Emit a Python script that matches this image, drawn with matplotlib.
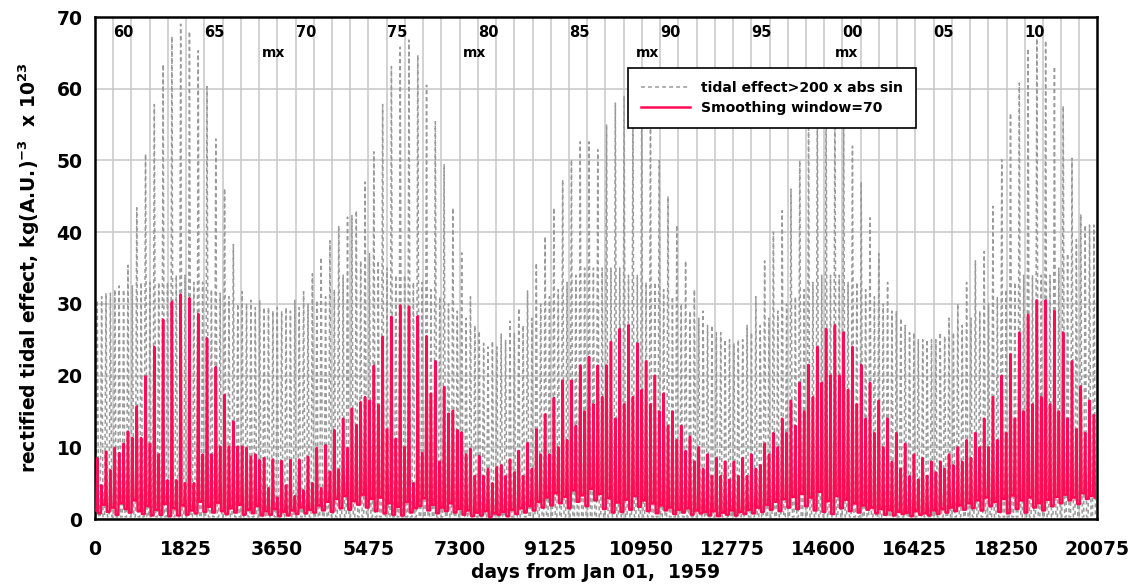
import numpy as np
import matplotlib
matplotlib.use("Agg")
import matplotlib.pyplot as plt
from matplotlib.lines import Line2D
from matplotlib.ticker import FixedLocator

plt.rcParams.update({
    "font.family": "DejaVu Sans",
    "font.weight": "bold",
    "axes.labelweight": "bold",
    "mathtext.fontset": "dejavusans",
    "mathtext.default": "bf",
})

# spikes come every Mercury orbit; first peak day and spacing in days
SPIKE_START = 45.0
SPIKE_PERIOD = 87.97

# peak value of each tidal spike (x 1e23)
GRAY_PEAK = [
    30.5, 31, 31.5, 31.5, 32, 32.5, 32, 35.4, 32.5, 43.4,
    33, 50.9, 33, 57.8, 33, 63.4, 33, 67.3, 34, 69.0,
    34, 68.0, 33, 65.3, 33, 60.3, 32, 53.0, 31.5, 46.1,
    31, 38.3, 30, 31.7, 30, 30.5, 29.5, 30.5, 29.5, 29.5,
    29, 29.5, 29, 29.5, 29, 30.5, 29.5, 31.7, 30, 34.2,
    30.5, 36.5, 31, 38.8, 32, 40.9, 34, 42.1, 42.3, 43,
    36, 47, 37, 51.2, 36, 57.8, 35, 63.1, 34, 65.8,
    34, 66.8, 33, 64.7, 33, 60.5, 32, 55.4, 31, 49.4,
    30, 43.4, 29, 37.1, 28, 31.0, 27, 26.2, 24.5, 24,
    24.8, 24, 25.8, 25, 27.6, 26, 29.4, 27, 31.8, 28,
    35.7, 30, 39.4, 31, 43.4, 32, 47.3, 33, 50.1, 34,
    52.6, 35, 52.6, 35, 51.5, 35, 55, 35, 58, 35,
    59, 34, 56, 34, 58, 33, 55, 33, 50, 32,
    45, 31, 41, 30, 36, 29, 32, 28, 29, 27,
    27, 26, 26, 25, 25, 24.5, 25, 25, 27, 26,
    31, 27, 36, 28, 40, 29, 43, 30, 46, 31,
    50, 32, 55, 33, 58, 34, 60, 34, 59, 34,
    56, 33, 52, 33, 47, 32, 42, 31, 37, 30,
    33, 29, 29, 28, 27, 26, 26, 25, 25, 25,
    25, 25, 26, 25.5, 28, 26, 30, 27, 33, 28,
    36, 29, 37.3, 30, 43.6, 31, 50.1, 32, 56.6, 33,
    60.8, 34, 65.6, 34, 67.0, 34, 66.7, 34, 63.1, 35,
    57.6, 37, 50.3, 39, 42.5, 41, 41, 41,
]
GRAY_FLOOR = 0.3

# smoothed curve: spike tops and the dips between them
RED_PEAK = [
    8.5, 4.7, 9.4, 6.8, 9.9, 9.2, 10.5, 12.2, 11.3, 15.7,
    11.3, 19.9, 10.5, 24.0, 9.0, 27.8, 5.4, 30.3, 5.4, 31.3,
    5.0, 30.8, 5.0, 28.6, 9.0, 25.2, 9.0, 21.2, 10.1, 17.3,
    10.1, 13.6, 10.1, 10.1, 9.9, 8.7, 9.0, 8.2, 8.5, 4.3,
    8.3, 3.0, 8.1, 4.7, 8.2, 3.2, 8.3, 4.0, 8.7, 5.0,
    9.9, 4.3, 10.3, 6.6, 12.4, 6.9, 14.0, 9.9, 15.4, 13.1,
    16.3, 17.0, 16.5, 21.4, 15.9, 25.4, 12.5, 28.2, 11.2, 29.8,
    10.0, 29.6, 5.0, 28.3, 9.2, 25.5, 17.5, 22.0, 8.0, 18.4,
    14.7, 15.1, 12.4, 12.1, 9.0, 9.8, 6.0, 8.8, 6.0, 7.0,
    5.0, 7.2, 7.5, 6.0, 8.3, 6.5, 9.5, 6.0, 10.6, 7.0,
    12.5, 9.0, 14.6, 9.0, 16.9, 10.0, 19.3, 11.0, 19.3, 13.0,
    21.4, 15.0, 22.6, 16.0, 21.4, 17.0, 21.4, 24.7, 14.0, 26.5,
    16.0, 27.0, 17.0, 24.5, 18.0, 22.0, 16.0, 20.0, 15.0, 17.5,
    13.0, 15.0, 11.0, 13.0, 9.5, 11.5, 8.0, 10.0, 7.0, 9.0,
    6.0, 8.5, 6.0, 8.0, 5.5, 8.0, 6.0, 8.5, 6.0, 9.0,
    7.0, 7.5, 10.5, 9.0, 12.0, 10.0, 14.0, 12.0, 16.5, 13.0,
    19.0, 15.0, 21.5, 17.0, 24.0, 19.0, 26.5, 20.0, 27.0, 20.0,
    26.0, 18.0, 24.0, 16.0, 21.5, 14.0, 19.0, 12.0, 16.5, 10.0,
    14.0, 8.0, 12.0, 7.0, 10.5, 6.0, 9.0, 5.5, 8.5, 6.0,
    8.0, 6.5, 8.0, 7.0, 9.0, 7.5, 10.0, 8.0, 11.0, 8.5,
    12.0, 10.0, 14.0, 10.0, 17.0, 11.0, 20.0, 12.0, 23.0, 14.0,
    26.0, 15.0, 28.5, 16.0, 30.5, 17.0, 30.5, 16.0, 29.0, 15.0,
    26.0, 14.0, 22.0, 12.5, 18.5, 12.0, 16.5, 14.5,
]
RED_TROUGH = [
    1.2, 0.8, 2.0, 1.0, 1.6, 0.6, 2.2, 1.4, 0.9, 2.6, 1.1, 0.7, 1.8, 0.5, 1.3, 0.6, 2.1, 0.4, 1.5, 0.5,
    1.9, 0.6, 1.2, 0.8, 2.4, 1.0, 1.7, 0.9, 2.3, 1.1, 0.7, 1.5, 0.9, 2.0, 0.6, 1.3, 0.8, 1.8, 0.5, 1.1,
    0.6, 1.4, 0.4, 1.0, 0.5, 1.2, 0.7, 1.6, 0.8, 1.3, 0.9, 1.9, 1.2, 2.4, 1.0, 2.8, 1.5, 3.2, 1.3, 2.5,
    2.0, 3.4, 1.6, 2.8, 1.1, 3.0, 0.8, 2.2, 0.6, 1.7, 0.5, 2.4, 0.9, 1.5, 1.8, 2.9, 1.2, 2.0, 0.8, 1.6,
    1.1, 2.2, 0.9, 1.4, 0.6, 1.2, 0.4, 0.9, 0.5, 1.1, 0.3, 0.8, 0.6, 1.0, 0.4, 1.3, 0.7, 1.5, 0.9, 1.8,
    1.2, 2.4, 1.6, 3.0, 1.9, 3.6, 2.2, 3.1, 1.5, 4.0, 2.4, 3.3, 1.8, 4.2, 2.6, 3.5, 1.4, 2.9, 0.9, 2.3,
    1.0, 2.7, 1.3, 3.2, 1.7, 2.6, 1.1, 2.2, 0.8, 1.9, 1.2, 1.6, 0.7, 1.3, 0.9, 1.5, 0.6, 1.2, 0.8, 1.0,
    0.5, 1.1, 0.4, 0.9, 0.6, 1.2, 0.5, 1.0, 0.7, 1.3, 0.8, 1.6, 1.0, 2.0, 1.3, 2.4, 1.1, 2.8, 1.6, 3.1,
    1.4, 3.5, 1.8, 3.0, 1.2, 3.8, 1.0, 2.5, 0.7, 3.2, 1.5, 2.7, 1.1, 2.2, 0.9, 1.9, 1.3, 1.6, 0.8, 1.4,
    0.6, 1.2, 0.5, 1.0, 0.7, 0.9, 0.4, 1.1, 0.6, 0.8, 0.5, 1.2, 0.7, 1.4, 0.9, 1.6, 1.1, 1.9, 1.3, 2.2,
    1.5, 2.6, 1.2, 3.0, 1.8, 2.4, 1.0, 2.8, 0.8, 3.3, 1.4, 2.6, 0.9, 3.0, 1.6, 2.2, 1.2, 2.7, 1.8, 3.1,
    2.2, 3.4, 2.6, 3.0, 2.1, 3.6, 2.8, 3.2, 3.0,
]

FIRST_YEAR = 1959
YEAR_LABELS = ["60", "65", "70", "75", "80", "85", "90", "95", "00", "05", "10"]
LABEL_YEARS = [1960, 1965, 1970, 1975, 1980, 1985, 1990, 1995, 2000, 2005, 2010]
MX_YEARS = [1968.8, 1979.8, 1989.3, 2000.2]
X_TICKS = [0, 1825, 3650, 5475, 7300, 9125, 10950, 12775, 14600, 16425, 18250, 20075]

C_GRAY = "#9a9a9a"
C_RED = "#ff0a54"
C_GRID = "#c6c6c6"
GRAY_DASH = (0, (2.6, 2.0))


def year_to_day(year):
    return (year - FIRST_YEAR) * 365.25


def spikes(peaks, troughs, half_width):
    """Each spike rises from the dip before it, peaks, and falls to the next dip."""
    peaks = np.asarray(peaks, float)
    troughs = np.asarray(troughs, float)
    centers = SPIKE_START + SPIKE_PERIOD * np.arange(len(peaks))
    x = np.column_stack([centers - half_width, centers, centers + half_width]).ravel()
    y = np.column_stack([troughs[:-1], peaks, troughs[1:]]).ravel()
    return x, y


def main():
    fig = plt.figure(figsize=(11.35, 5.85), dpi=100)
    ax = fig.add_axes([0.0837, 0.1128, 0.8828, 0.8581])

    xg, yg = spikes(GRAY_PEAK, np.full(len(GRAY_PEAK) + 1, GRAY_FLOOR), 28)
    xr, yr = spikes(RED_PEAK, RED_TROUGH, 16)

    ax.plot(xg, yg, color=C_GRAY, lw=1.1, ls=GRAY_DASH, zorder=2)
    ax.plot(xr, yr, color=C_RED, lw=1.8, zorder=3)

    ax.set_xlim(0, 20075)
    ax.set_ylim(0, 70)
    ax.set_xticks(X_TICKS)
    ax.set_yticks(range(0, 71, 10))
    year_days = [year_to_day(y) for y in range(1960, 2014)]
    ax.xaxis.set_minor_locator(FixedLocator(year_days))
    ax.grid(which="minor", axis="x", color=C_GRID, lw=1.1, zorder=0)
    ax.grid(which="major", axis="y", color=C_GRID, lw=1.1, zorder=0)
    ax.set_axisbelow(True)
    ax.tick_params(which="both", length=0)
    ax.tick_params(axis="x", labelsize=13.5, pad=15)
    ax.tick_params(axis="y", labelsize=13.5, pad=9)
    for sp in ax.spines.values():
        sp.set_linewidth(1.8)
        sp.set_color("black")

    for lab, yr_ in zip(YEAR_LABELS, LABEL_YEARS):
        ax.text(year_to_day(yr_), 67.8, lab, ha="left", va="center",
                fontsize=10.5, fontweight="bold")
    for yr_ in MX_YEARS:
        ax.text(year_to_day(yr_), 65.0, "mx", ha="center", va="center",
                fontsize=10, fontweight="bold")

    ax.set_xlabel("days from Jan 01,  1959", fontsize=13.5, labelpad=3)
    ax.set_ylabel(r"rectified tidal effect, kg(A.U.)$^{-3}$  x 10$^{23}$",
                  fontsize=13.5, labelpad=10)

    handles = [
        Line2D([0], [0], color=C_GRAY, lw=1.1, ls=GRAY_DASH,
               label="tidal effect>200 x abs sin"),
        Line2D([0], [0], color=C_RED, lw=1.8, label="Smoothing window=70"),
    ]
    leg = ax.legend(handles=handles, loc="upper left", bbox_to_anchor=(0.532, 0.898),
                    borderaxespad=0, fancybox=False, framealpha=1, edgecolor="black",
                    prop={"weight": "bold", "size": 10.1}, handlelength=3.5,
                    borderpad=0.9, labelspacing=0.45)
    leg.get_frame().set_linewidth(1.2)
    leg.set_zorder(5)

    fig.savefig("out.png", dpi=100)
    plt.close(fig)


if __name__ == "__main__":
    main()
